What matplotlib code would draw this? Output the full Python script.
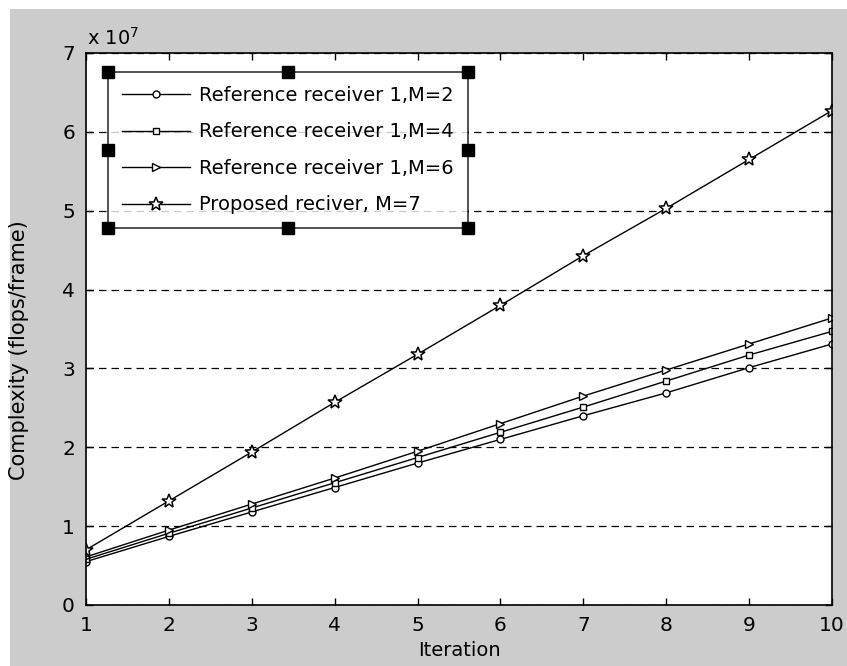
import numpy as np
import matplotlib as mpl
mpl.use("Agg")
import matplotlib.pyplot as plt
from matplotlib.ticker import FuncFormatter
from matplotlib.patches import Rectangle

plt.rcParams['font.family'] = ['DejaVu Sans']

iterations = [1, 2, 3, 4, 5, 6, 7, 8, 9, 10]
# complexity in flops/frame
ref_m2 = [0.55e7, 0.87e7, 1.18e7, 1.49e7, 1.80e7, 2.10e7, 2.40e7, 2.69e7, 3.01e7, 3.31e7]
ref_m4 = [0.58e7, 0.91e7, 1.23e7, 1.55e7, 1.87e7, 2.19e7, 2.51e7, 2.84e7, 3.17e7, 3.47e7]
ref_m6 = [0.61e7, 0.95e7, 1.28e7, 1.61e7, 1.95e7, 2.30e7, 2.65e7, 2.98e7, 3.31e7, 3.64e7]
proposed = [0.70e7, 1.32e7, 1.94e7, 2.57e7, 3.18e7, 3.80e7, 4.43e7, 5.03e7, 5.65e7, 6.27e7]
labels = ['Reference receiver 1,M=2', 'Reference receiver 1,M=4',
          'Reference receiver 1,M=6', 'Proposed reciver, M=7']

fig = plt.figure(figsize=(8.47, 6.66), dpi=100)
fig.patch.set_facecolor('white')
# matlab grey figure area (white strip left/top)
fig.add_artist(Rectangle((10/847, 0), 1, 1 - 9/666, transform=fig.transFigure,
                         facecolor='#cccccc', edgecolor='none', zorder=-10))

ax = fig.add_axes([86/847, 61/666, 746/847, 552/666])
ax.set_facecolor('white')

ax.plot(iterations, ref_m2, 'k-', lw=1, marker='o', ms=5, mfc='white', mec='k', mew=1, label=labels[0])
ax.plot(iterations, ref_m4, 'k-', lw=1, marker='s', ms=5, mfc='white', mec='k', mew=1, label=labels[1])
ax.plot(iterations, ref_m6, 'k-', lw=1, marker='>', ms=5.5, mfc='white', mec='k', mew=1, label=labels[2])
ax.plot(iterations, proposed, 'k-', lw=1, marker='*', ms=10, mfc='white', mec='k', mew=1.1, label=labels[3])

ax.set_xlim(1, 10)
ax.set_ylim(0, 7e7)
ax.set_xticks(range(1, 11))
ax.set_yticks(np.arange(0, 8) * 1e7)
ax.yaxis.set_major_formatter(FuncFormatter(lambda v, p: '%d' % round(v / 1e7)))
ax.tick_params(direction='in', top=True, right=True, length=5, width=1,
               labelsize=14.5, pad=8)
for s in ax.spines.values():
    s.set_linewidth(1.2)

ax.yaxis.grid(True, color='k', linestyle=(0, (6, 4)), lw=0.9)
ax.set_axisbelow(True)

ax.text(0.002, 1.008, r'x 10$^{7}$', transform=ax.transAxes, fontsize=14,
        ha='left', va='bottom')
ax.set_xlabel('Iteration', fontsize=14, labelpad=4)
ax.set_ylabel('Complexity (flops/frame)', fontsize=15)
ax.yaxis.set_label_coords(-0.076, 0.462)

leg = ax.legend(loc='upper left', bbox_to_anchor=(0.0295, 0.965), fontsize=14,
                handlelength=3.5, handletextpad=0.5, labelspacing=0.9,
                borderpad=0.7, borderaxespad=0, frameon=True, fancybox=False)
leg.get_frame().set_edgecolor('k')
leg.get_frame().set_linewidth(1.2)

# selection handles around the legend box
fig.canvas.draw()
bb = leg.get_frame().get_window_extent().transformed(fig.transFigure.inverted())
xs = [bb.x0, (bb.x0 + bb.x1) / 2, bb.x1]
ys = [bb.y0, (bb.y0 + bb.y1) / 2, bb.y1]
for xx in xs:
    for yy in ys:
        if xx == xs[1] and yy == ys[1]:
            continue
        fig.add_artist(plt.Line2D([xx], [yy], marker='s', ms=9, color='k',
                                  transform=fig.transFigure, zorder=20))

fig.savefig('out.png', dpi=100)
